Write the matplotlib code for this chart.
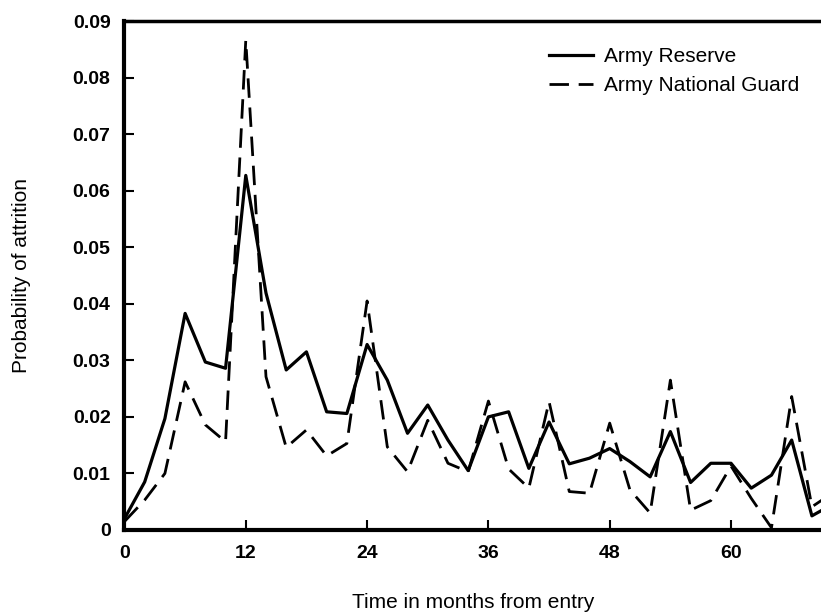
import matplotlib.pyplot as plt

# months from entry (every 2 months)
months = [0, 2, 4, 6, 8, 10, 12, 14, 16, 18, 20, 22, 24, 26, 28, 30, 32, 34,
          36, 38, 40, 42, 44, 46, 48, 50, 52, 54, 56, 58, 60, 62, 64, 66, 68, 70]

# Army Reserve (solid)
reserve = [0.002, 0.0085, 0.0197, 0.0383, 0.0297, 0.0286, 0.0627, 0.0419,
           0.0283, 0.0315, 0.0209, 0.0206, 0.0328, 0.0265, 0.0171, 0.0221,
           0.0159, 0.0105, 0.020, 0.0209, 0.0109, 0.0191, 0.0117, 0.0127,
           0.0144, 0.0121, 0.0094, 0.0174, 0.0084, 0.0118, 0.0118, 0.0074,
           0.0097, 0.0159, 0.0025, 0.0045]

# Army National Guard (dashed)
guard = [0.0015, 0.0053, 0.010, 0.0262, 0.0186, 0.0156, 0.0866, 0.0271,
         0.0146, 0.0177, 0.0131, 0.0153, 0.0405, 0.0147, 0.0103, 0.0194,
         0.0118, 0.0103, 0.0228, 0.0108, 0.0074, 0.0227, 0.0068, 0.0065,
         0.0189, 0.0071, 0.003, 0.0265, 0.0035, 0.0052, 0.0113, 0.0056,
         0.0004, 0.0236, 0.0041, 0.0065]

plt.rcParams['font.family'] = ['Liberation Sans', 'DejaVu Sans']

fig = plt.figure(figsize=(8.21, 6.13), dpi=100)
ax = fig.add_axes([0.1516, 0.1354, 0.8484, 0.8303])

ax.plot(months, reserve, color='black', lw=2.3, label='Army Reserve')
ax.plot(months, guard, color='black', lw=2.0, dashes=(7, 3.5), label='Army National Guard')

ax.set_xlim(0, 68.9)
ax.set_ylim(0, 0.09)
ax.set_xticks([0, 12, 24, 36, 48, 60])
ax.set_yticks([0, 0.01, 0.02, 0.03, 0.04, 0.05, 0.06, 0.07, 0.08, 0.09])
ax.set_yticklabels(['0', '0.01', '0.02', '0.03', '0.04', '0.05', '0.06', '0.07', '0.08', '0.09'])

for lab in ax.get_xticklabels() + ax.get_yticklabels():
    lab.set_fontweight('bold')
    lab.set_fontsize(14)

ax.tick_params(direction='in', length=7, width=1.5)
ax.tick_params(axis='x', pad=11)
ax.tick_params(axis='y', pad=10)

ax.spines['left'].set_linewidth(3)
ax.spines['bottom'].set_linewidth(3)
ax.spines['top'].set_linewidth(2.5)
ax.spines['right'].set_visible(False)

ax.set_xlabel('Time in months from entry', fontsize=15, labelpad=22)
ax.set_ylabel('Probability of attrition', fontsize=15, labelpad=30)

ax.legend(loc='upper left', bbox_to_anchor=(0.61, 0.948), frameon=False,
          fontsize=15, handlelength=2.1, handletextpad=0.5, borderpad=0,
          labelspacing=0.45, borderaxespad=0)

fig.savefig('out.png', dpi=100)
